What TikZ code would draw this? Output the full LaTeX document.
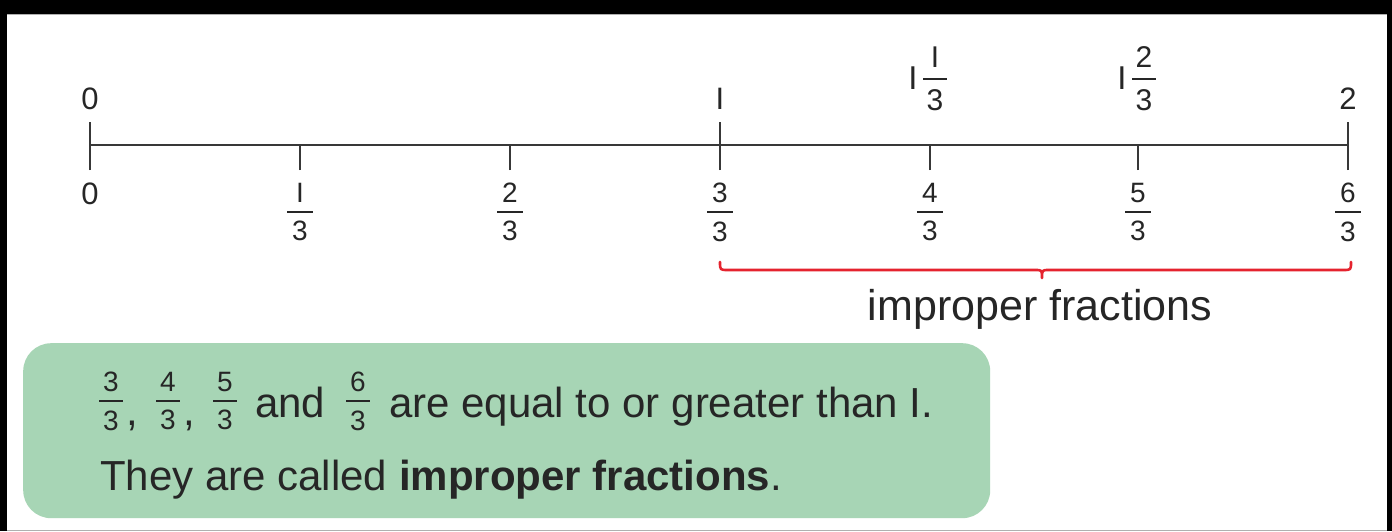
\documentclass[tikz,border=0pt]{standalone}
\usepackage{fontspec}
\setmainfont{Liberation Sans}
\definecolor{ink}{HTML}{262626}
\definecolor{axisgray}{HTML}{383838}
\definecolor{bracered}{HTML}{E5232E}
\definecolor{boxgreen}{HTML}{A7D5B5}
\definecolor{rimgray}{HTML}{B0B0B0}
% stacked fraction: #1 numerator, #2 denominator, #3 bar width, #4 gap, #5 bar thickness
\newcommand\stackfr[5]{\vbox{\hbox to #3{\hss#1\hss}\kern#4\hrule height #5\kern#4\hbox to #3{\hss#2\hss}}}
\newcommand\linefr[2]{\stackfr{#1}{#2}{26pt}{8.5pt}{2pt}}
\newcommand\topfr[2]{\stackfr{#1}{#2}{24pt}{10pt}{2pt}}
\newcommand\boxfr[2]{\stackfr{#1}{#2}{24pt}{8.5pt}{2pt}}
\tikzset{
  lbl/.style={inner sep=0pt, text=ink, font=\fontsize{31}{31}\selectfont},
  frlbl/.style={inner sep=0pt, text=ink, font=\fontsize{28}{28}\selectfont},
  boxtxt/.style={inner sep=0pt, text=ink, font=\fontsize{42}{48}\selectfont},
  axisline/.style={draw=axisgray, line width=2pt},
  tickline/.style={draw=axisgray, line width=2pt},
  bracepath/.style={draw=bracered, line width=2.6pt, line cap=round, line join=round},
}
\begin{document}
\begin{tikzpicture}[x=1pt,y=-1pt]
\useasboundingbox (0,0) rectangle (1392,532);
% frame
\fill[black] (0,0) rectangle (1392,531);
\fill[white] (7,14) rectangle (1387,530);
\fill[white] (0,531) rectangle (1392,532);
\draw[rimgray, line width=1pt] (7,530.5) -- (1387,530.5);
\draw[rimgray, line width=0.8pt] (7,14.4) -- (1387,14.4);

% tick positions
\foreach \i/\x in {0/90,1/300,2/510,3/720,4/930,5/1138,6/1348}{
  \coordinate (t\i) at (\x,145);
}
\draw[axisline] (t0) -- (t6);
% integer ticks (both sides)
\foreach \i in {0,3,6}{
  \draw[tickline] ([yshift=-25pt]t\i) -- ([yshift=23pt]t\i);
}
% fraction ticks (above only)
\foreach \i in {1,2,4,5}{
  \draw[tickline] ([yshift=-25pt]t\i) -- (t\i);
}

% top labels
\node[lbl] (top0) at (90,99) {0};
\node[lbl] (top3) at (720,99) {I};
\node[lbl] (top6) at (1348,99) {2};
\node[lbl, font=\fontsize{33}{33}\selectfont] (top4w) at (913,78) {I};
\node[frlbl, font=\fontsize{30}{30}\selectfont] (top4f) at (935,79) {\topfr{I}{3}};
\node[lbl, font=\fontsize{33}{33}\selectfont] (top5w) at (1122,78) {I};
\node[frlbl, font=\fontsize{30}{30}\selectfont] (top5f) at (1144,79) {\topfr{2}{3}};

% bottom labels
\node[lbl] (bot0) at (90,194) {0};
\node[frlbl] (bot1) at (300,212) {\linefr{I}{3}};
\node[frlbl] (bot2) at (510,212) {\linefr{2}{3}};
\node[frlbl] (bot3) at (720,212) {\linefr{3}{3}};
\node[frlbl] (bot4) at (930,212) {\linefr{4}{3}};
\node[frlbl] (bot5) at (1138,212) {\linefr{5}{3}};
\node[frlbl] (bot6) at (1348,212) {\linefr{6}{3}};

% red brace
\coordinate (bl) at (720,262);
\coordinate (br) at (1351,262);
\coordinate (bt) at (1042,278);
\draw[bracepath] (bl) .. controls (720,270) .. (728,270) -- (1035,270)
  .. controls (1042,270) .. (bt) .. controls (1042,270) .. (1049,270)
  -- (1343,270) .. controls (1351,270) .. (br);
\node[inner sep=0pt, text=ink, font=\fontsize{43}{43}\selectfont, anchor=base] (implbl) at (1040,320) {improper fractions};

% green box
\node[fill=boxgreen, rounded corners=28pt, minimum width=967pt, minimum height=175pt, inner sep=0pt, anchor=north west] (box) at (23,343) {};
\node[frlbl] (bf1) at (111,401) {\boxfr{3}{3}};
\node[boxtxt, anchor=base] (c1) at (132,425) {,};
\node[frlbl] (bf2) at (168,401) {\boxfr{4}{3}};
\node[boxtxt, anchor=base] (c2) at (189,425) {,};
\node[frlbl] (bf3) at (225,401) {\boxfr{5}{3}};
\node[boxtxt, anchor=base west] (andtxt) at (255,417) {and};
\node[frlbl] (bf4) at (358,401) {\boxfr{6}{3}};
\node[boxtxt, anchor=base west] (resttxt) at (389,417) {are equal to or greater than I.};
\node[boxtxt, anchor=base west] (line2) at (100,490) {They are called \textbf{improper fractions}.};
\end{tikzpicture}
\end{document}
